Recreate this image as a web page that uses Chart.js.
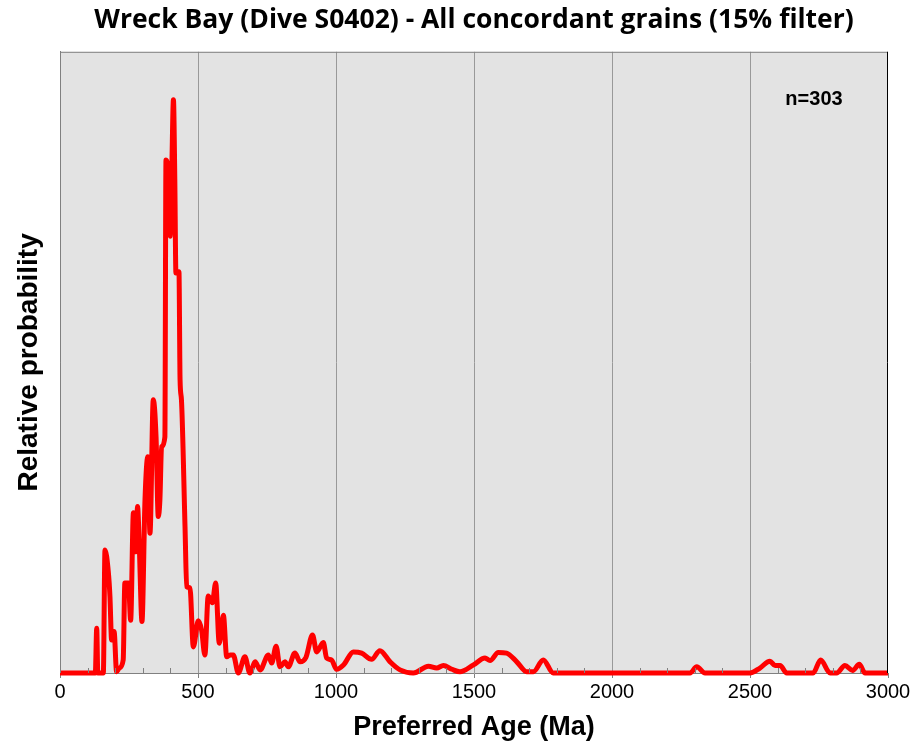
<!DOCTYPE html>
<html>
<head>
<meta charset="utf-8">
<script src="https://cdn.jsdelivr.net/npm/chart.js@4/dist/chart.umd.min.js"></script>
<style>
  html, body { margin: 0; padding: 0; background: #fff; }
  #wrap { width: 915px; height: 744px; }
</style>
</head>
<body>
<div id="wrap"><canvas id="canvas"></canvas></div>
<script>
// probability curve (age in Ma, relative probability)
const ages = [0, 120, 128, 133, 137, 150, 157, 163, 175, 181, 187, 196, 205, 215, 229, 235, 248, 256, 266, 275,
  281, 287, 297, 308, 318, 326, 338, 348, 356, 362, 368, 380, 384, 390, 399, 405, 411, 416, 420, 431,
  435, 440, 453, 459, 471, 483, 501, 513, 525, 537, 552, 564, 577, 592, 604, 616, 628, 646, 670, 688,
  707, 725, 755, 767, 783, 797, 815, 827, 851, 870, 891, 915, 930, 954, 966, 984, 1002, 1027, 1063, 1093,
  1129, 1159, 1196, 1232, 1280, 1335, 1365, 1389, 1420, 1449, 1498, 1540, 1558, 1588, 1618, 1655, 1691, 1715, 1751, 1787,
  2283, 2307, 2337, 2500, 2536, 2572, 2591, 2609, 2633, 2729, 2756, 2790, 2814, 2844, 2872, 2896, 2917, 3000];
const prob = [0, 0, 0, 7.2, 0, 0, 0, 19.8, 16.3, 12.3, 5.3, 6.7, 0.2, 0.8, 2.1, 14.5, 14.5, 8.5, 25.8, 19.5,
  26.8, 20.9, 8.3, 27.9, 34.8, 22.5, 44, 38, 25.2, 27.9, 36.4, 38, 82.6, 81.8, 70.3, 81, 92.3, 79.4, 64.4, 64.6,
  47.2, 44, 23.5, 13.9, 13.7, 4.2, 8.4, 6.9, 2.9, 12.4, 11.3, 14.5, 4.8, 9.3, 2.6, 2.9, 2.9, 0, 2.6, 0,
  1.8, 0.5, 2.9, 1.6, 4.3, 1, 1.8, 1, 3.2, 1.8, 2.5, 6.1, 3.4, 4.9, 2.4, 2.1, 0.6, 1.3, 3.4, 3.2,
  2.2, 3.6, 1.8, 0.5, 0, 1.1, 0.8, 1.2, 0.6, 0.2, 1.3, 2.4, 2, 3.3, 3.2, 1.8, 0.2, 0.2, 2.1, 0,
  0, 1, 0, 0, 0.8, 1.9, 1.2, 1.2, 0, 0, 2.1, 0, 0, 1.2, 0.4, 1.4, 0, 0];

const xTicks = [0, 500, 1000, 1500, 2000, 2500, 3000];
const nLabel = "n=303";

const points = ages.map((a, i) => ({ x: a, y: prob[i] }));

// grey plot area + frame, minor ticks, n label
const decor = {
  id: "decor",
  beforeDraw(chart) {
    const { ctx, chartArea: a } = chart;
    ctx.save();
    ctx.fillStyle = "#e3e3e3";
    ctx.fillRect(a.left, a.top, a.right - a.left, a.bottom - a.top);
    ctx.restore();
  },
  afterDatasetsDraw(chart) {
    const { ctx, chartArea: a, scales } = chart;
    ctx.save();
    ctx.strokeStyle = "#808080";
    ctx.lineWidth = 1;
    ctx.beginPath();
    ctx.moveTo(a.left + 0.5, a.bottom);
    ctx.lineTo(a.left + 0.5, a.top + 0.5);
    ctx.lineTo(a.right, a.top + 0.5);
    ctx.stroke();
    ctx.strokeStyle = "#000";
    ctx.beginPath();
    ctx.moveTo(a.right - 0.5, a.top);
    ctx.lineTo(a.right - 0.5, a.bottom);
    ctx.stroke();
    // minor ticks every 100 Ma, pointing up
    ctx.strokeStyle = "#808080";
    for (let v = 100; v < 3000; v += 100) {
      if (v % 500 === 0) continue;
      const px = Math.round(scales.x.getPixelForValue(v)) + 0.5;
      ctx.beginPath();
      ctx.moveTo(px, a.bottom);
      ctx.lineTo(px, a.bottom - 5);
      ctx.stroke();
    }
    ctx.fillStyle = "#000";
    ctx.font = "bold 20px 'Liberation Sans', Arial, sans-serif";
    ctx.textAlign = "center";
    ctx.textBaseline = "middle";
    ctx.fillText(nLabel, a.right - 74, a.top + 48);
    ctx.restore();
  }
};

new Chart(document.getElementById("canvas"), {
  type: "line",
  data: {
    datasets: [{
      data: points,
      borderColor: "#ff0000",
      borderWidth: 5,
      pointRadius: 0,
      fill: false,
      cubicInterpolationMode: "monotone",
      clip: 8
    }]
  },
  options: {
    responsive: true,
    maintainAspectRatio: false,
    animation: false,
    layout: { padding: { left: 0, right: 27, top: 0, bottom: 0 } },
    plugins: {
      legend: { display: false },
      tooltip: { enabled: false },
      title: {
        display: true,
        fullSize: false,
        text: "Wreck Bay (Dive S0402) - All concordant grains (15% filter)",
        color: "#000",
        font: { family: "'Open Sans', sans-serif", size: 26.5, weight: "bold" },
        padding: { top: 5, bottom: 15 }
      }
    },
    scales: {
      x: {
        type: "linear",
        min: 0,
        max: 3000,
        afterBuildTicks(scale) { scale.ticks = xTicks.map((v) => ({ value: v })); },
        afterFit(scale) { scale.height = 71; },
        ticks: {
          color: "#000",
          font: { family: "'Liberation Sans', Arial, sans-serif", size: 20 },
          padding: 2,
          callback: (v) => String(v)
        },
        grid: {
          color: (c) => (c.tick && (c.tick.value === 0 || c.tick.value === 3000) ? "rgba(0,0,0,0)" : "#999999"),
          tickColor: "#808080",
          tickLength: 5,
          lineWidth: 1
        },
        border: { color: "#808080" },
        title: {
          display: true,
          text: "Preferred Age (Ma)",
          color: "#000",
          font: { family: "'Liberation Sans', Arial, sans-serif", size: 27, weight: "bold" },
          padding: { top: 0, bottom: 0 }
        }
      },
      y: {
        min: 0,
        max: 100,
        afterFit(scale) { scale.width = 60; },
        ticks: { display: false },
        grid: { display: false },
        border: { color: "#808080" },
        title: {
          display: true,
          text: "Relative probability",
          color: "#000",
          font: { family: "'Liberation Sans', Arial, sans-serif", size: 28, weight: "bold" },
          padding: { top: 12, bottom: 0 }
        }
      }
    }
  },
  plugins: [decor]
});
</script>
</body>
</html>
